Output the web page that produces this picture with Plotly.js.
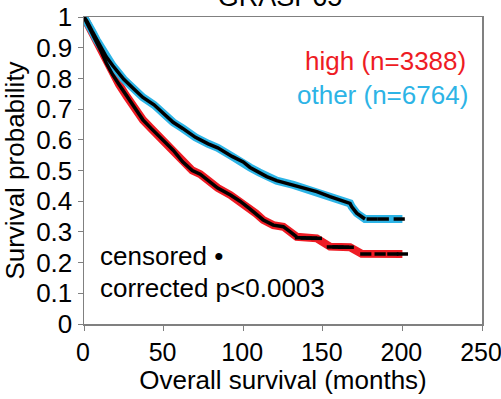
<!DOCTYPE html>
<html>
<head>
<meta charset="utf-8">
<script src="https://cdn.plot.ly/plotly-3.0.1.min.js"></script>
<style>html,body{margin:0;padding:0;background:#fff;}#chart{width:501px;height:399px;}</style>
</head>
<body>
<div id="chart"></div>
<script>
// ---- data ----
const chartTitle = 'GRASP65';
const highLabel = 'high (n=3388)';
const otherLabel = 'other (n=6764)';
const xTicks = [0, 50, 100, 150, 200, 250];
const yTicks = [0, 0.1, 0.2, 0.3, 0.4, 0.5, 0.6, 0.7, 0.8, 0.9, 1];

const highMonths = [0, 2, 5, 8, 11, 14, 18, 22, 27, 32, 37, 42, 50, 56, 62, 68, 73, 80, 84, 92, 98, 104, 108, 112.6, 118.9, 125.2, 129.4, 133.6, 146.2, 149.3, 154.5, 167.1, 171.3, 174.4, 200];
const highSurv   = [1, 0.98, 0.95, 0.92, 0.885, 0.85, 0.812, 0.78, 0.74, 0.70, 0.665, 0.638, 0.597, 0.566, 0.528, 0.50, 0.488, 0.46, 0.443, 0.42, 0.40, 0.376, 0.36, 0.339, 0.322, 0.317, 0.301, 0.284, 0.279, 0.268, 0.252, 0.250, 0.241, 0.229, 0.228];

const otherMonths = [0, 2, 5, 8, 11, 14, 18, 25, 31, 37, 44, 50, 56, 62, 70, 78, 84, 93, 100, 104.3, 110, 114.8, 121, 131.5, 140, 146.2, 154.5, 160, 167.1, 168.2, 171.3, 176.5, 200];
const otherSurv   = [1, 0.985, 0.955, 0.925, 0.898, 0.87, 0.842, 0.797, 0.767, 0.738, 0.714, 0.685, 0.657, 0.637, 0.608, 0.587, 0.574, 0.546, 0.528, 0.51, 0.494, 0.48, 0.467, 0.453, 0.440, 0.431, 0.415, 0.405, 0.393, 0.382, 0.361, 0.342, 0.342];

// sparse censored observations in the tails
const highCensMonths = [136, 139.5, 143, 146, 156, 159.5, 163, 166, 177, 186, 194, 200];
const highCensSurv   = [0.281, 0.280, 0.280, 0.279, 0.251, 0.251, 0.250, 0.250, 0.228, 0.228, 0.228, 0.228];
const otherCensMonths = [181, 188, 198];
const otherCensSurv   = [0.342, 0.342, 0.342];

const pText = 'corrected p<0.0003';
const censText = 'censored •';

// ---- styles ----
const RED = '#ee1c24';
const CYAN = '#2db4e6';
const FONT = '"Liberation Sans", Arial, sans-serif';
const highSolidUntil = 133.6;
const otherSolidUntil = 176.5;

function upTo(xs, ys, lim) {
  const ox = [], oy = [];
  for (let i = 0; i < xs.length; i++) if (xs[i] <= lim) { ox.push(xs[i]); oy.push(ys[i]); }
  return [ox, oy];
}
const [hbx, hby] = upTo(highMonths, highSurv, highSolidUntil);
const [obx, oby] = upTo(otherMonths, otherSurv, otherSolidUntil);

const traces = [
  {x: highMonths, y: highSurv, mode: 'lines', line: {color: RED, width: 8}, hoverinfo: 'skip'},
  {x: otherMonths, y: otherSurv, mode: 'lines', line: {color: CYAN, width: 8}, hoverinfo: 'skip'},
  {x: hbx, y: hby, mode: 'lines', line: {color: '#000', width: 3.5}, hoverinfo: 'skip'},
  {x: obx, y: oby, mode: 'lines', line: {color: '#000', width: 3.5}, hoverinfo: 'skip'},
  {x: highCensMonths, y: highCensSurv, mode: 'markers',
   marker: {symbol: 'line-ew', size: 8, color: '#000', line: {color: '#000', width: 3.5}}, hoverinfo: 'skip'},
  {x: otherCensMonths, y: otherCensSurv, mode: 'markers',
   marker: {symbol: 'line-ew', size: 8, color: '#000', line: {color: '#000', width: 3.5}}, hoverinfo: 'skip'}
];

const axisCommon = {
  showgrid: false, zeroline: false, showline: true, linecolor: '#808080', linewidth: 1.5,
  mirror: true, ticks: 'outside', ticklen: 5, tickwidth: 1, tickcolor: '#808080',
  tickfont: {family: FONT, size: 26, color: '#000'}
};

const layout = {
  width: 501, height: 399,
  margin: {l: 84, r: 19, t: 17, b: 75},
  paper_bgcolor: '#fff', plot_bgcolor: '#fff',
  showlegend: false,
  font: {family: FONT, color: '#000'},
  title: {text: chartTitle, font: {family: FONT, size: 27, color: '#000'},
          xref: 'paper', x: 0.4925, xanchor: 'center',
          yref: 'paper', y: 1, yanchor: 'bottom', pad: {b: 11}},
  xaxis: Object.assign({}, axisCommon, {
    range: [0, 250], tickvals: xTicks, ticktext: xTicks.map(String),
    tickfont: {family: FONT, size: 25, color: '#000'},
    ticklabeloverflow: 'allow', ticklabelshift: -1,
    title: {text: 'Overall survival (months)', font: {family: FONT, size: 26, color: '#000'}, standoff: 4}
  }),
  yaxis: Object.assign({}, axisCommon, {
    range: [0, 1], tickvals: yTicks, ticktext: yTicks.map(String),
    title: {text: 'Survival probability', font: {family: FONT, size: 26, color: '#000'}, standoff: 6}
  }),
  annotations: [
    {xref: 'paper', yref: 'paper', x: 0.965, y: 0.857, xanchor: 'right', yanchor: 'middle',
     text: highLabel, showarrow: false, font: {family: FONT, size: 26, color: RED}},
    {xref: 'paper', yref: 'paper', x: 0.970, y: 0.746, xanchor: 'right', yanchor: 'middle',
     text: otherLabel, showarrow: false, font: {family: FONT, size: 26, color: CYAN}},
    {xref: 'paper', yref: 'paper', x: 0.035, y: 0.221, xanchor: 'left', yanchor: 'middle',
     text: censText, showarrow: false, font: {family: FONT, size: 26, color: '#000'}},
    {xref: 'paper', yref: 'paper', x: 0.035, y: 0.117, xanchor: 'left', yanchor: 'middle',
     text: pText, showarrow: false, font: {family: FONT, size: 26, color: '#000'}}
  ]
};

Plotly.newPlot('chart', traces, layout, {staticPlot: true, displayModeBar: false});
</script>
</body>
</html>
